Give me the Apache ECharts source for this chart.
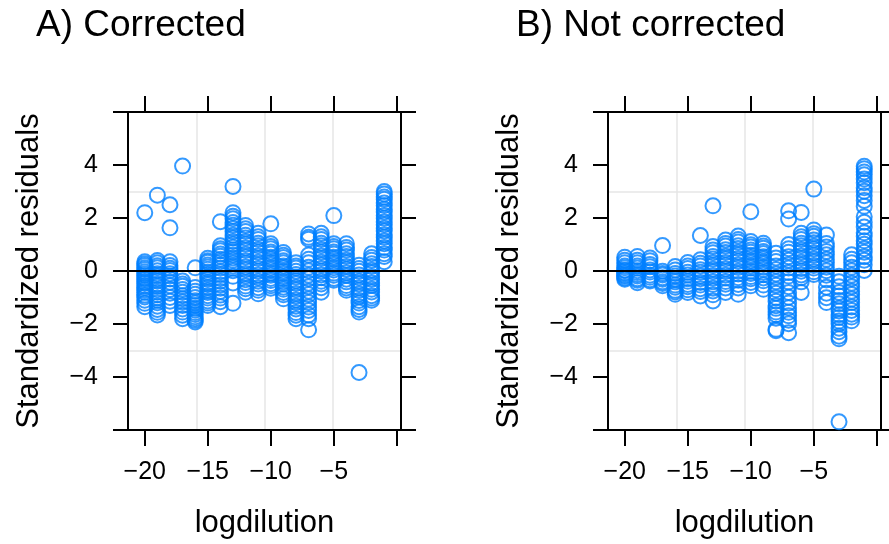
<!DOCTYPE html>
<html>
<head>
<meta charset="utf-8">
<script src="https://cdn.jsdelivr.net/npm/echarts@6/dist/echarts.min.js"></script>
<style>
html, body { margin: 0; padding: 0; background: #fff; }
#chart { width: 889px; height: 544px; }
</style>
</head>
<body>
<div id="chart"></div>
<script>
// dilution levels (x) and the residuals read per column, left to right
var logdilution = [-20, -19, -18, -17, -16, -15, -14, -13, -12, -11, -10, -9, -8, -7, -6, -5, -4, -3, -2, -1];

var correctedResid = [
  [2.2, 0.35, 0.27, 0.21, 0.12, 0.06, -0.03, -0.1, -0.17, -0.26, -0.32, -0.41, -0.47, -0.56, -0.63, -0.72, -0.8, -0.91, -0.98, -1.1, -1.22, -1.35],
  [2.86, 0.4, 0.31, 0.2, 0.12, 0.01, -0.1, -0.18, -0.3, -0.38, -0.5, -0.58, -0.71, -0.8, -0.9, -1.02, -1.1, -1.2, -1.33, -1.45, -1.56, -1.66],
  [2.5, 1.63, 0.35, 0.21, 0.1, 0.02, -0.1, -0.19, -0.3, -0.42, -0.56, -0.7, -0.84, -1.0, -1.14, -1.3],
  [3.96, -0.38, -0.49, -0.58, -0.7, -0.8, -0.93, -1.05, -1.17, -1.3, -1.43, -1.55, -1.67, -1.8],
  [0.12, -0.62, -0.76, -0.88, -1.0, -1.12, -1.21, -1.3, -1.41, -1.48, -1.57, -1.64, -1.73, -1.8, -1.86, -1.92],
  [0.48, 0.39, 0.33, 0.23, 0.15, 0.07, -0.04, -0.12, -0.23, -0.31, -0.43, -0.51, -0.62, -0.73, -0.81, -0.93, -1.02, -1.13, -1.21, -1.3],
  [1.86, 0.95, 0.84, 0.76, 0.64, 0.56, 0.44, 0.35, 0.22, 0.11, -0.03, -0.14, -0.28, -0.39, -0.53, -0.65, -0.77, -0.91, -1.02, -1.16, -1.35],
  [3.19, 2.2, 2.07, 1.97, 1.83, 1.73, 1.6, 1.49, 1.35, 1.25, 1.11, 1.01, 0.9, 0.79, 0.71, 0.6, 0.49, 0.41, 0.3, 0.19, 0.11, 0.01, -0.2, -0.45, -1.22],
  [1.72, 1.59, 1.49, 1.35, 1.25, 1.11, 1.01, 0.87, 0.77, 0.63, 0.53, 0.39, 0.29, 0.15, 0.05, -0.09, -0.19, -0.33, -0.43, -0.57, -0.67, -0.8],
  [1.42, 1.29, 1.19, 1.05, 0.95, 0.81, 0.71, 0.57, 0.47, 0.33, 0.23, 0.09, -0.01, -0.15, -0.25, -0.39, -0.49, -0.63, -0.73, -0.86],
  [1.78, 1.03, 0.92, 0.84, 0.72, 0.64, 0.52, 0.44, 0.32, 0.24, 0.12, 0.04, -0.08, -0.16, -0.28, -0.36, -0.48, -0.56, -0.65],
  [0.7, 0.59, 0.51, 0.39, 0.31, 0.19, 0.11, -0.01, -0.09, -0.21, -0.29, -0.41, -0.49, -0.61, -0.69, -0.81, -0.9, -1.05],
  [0.31, 0.19, 0.11, -0.01, -0.13, -0.23, -0.37, -0.47, -0.61, -0.71, -0.85, -0.95, -1.09, -1.19, -1.33, -1.43, -1.57, -1.67, -1.8],
  [1.4, 1.27, 1.2, 0.6, 0.44, 0.31, 0.14, 0.01, -0.16, -0.29, -0.46, -0.59, -0.76, -0.89, -1.06, -1.19, -1.36, -1.49, -1.66, -1.8, -2.22],
  [1.42, 1.29, 1.19, 1.05, 0.95, 0.81, 0.71, 0.57, 0.47, 0.33, 0.23, 0.09, -0.01, -0.15, -0.25, -0.39, -0.49, -0.63, -0.8],
  [2.09, 1.03, 0.92, 0.84, 0.72, 0.64, 0.52, 0.44, 0.32, 0.24, 0.12, 0.04, -0.08, -0.16, -0.28, -0.35],
  [1.03, 0.89, 0.79, 0.65, 0.55, 0.41, 0.31, 0.17, 0.07, -0.07, -0.17, -0.31, -0.41, -0.55, -0.64, -0.73],
  [0.22, 0.09, -0.01, -0.15, -0.25, -0.39, -0.49, -0.63, -0.73, -0.87, -0.97, -1.11, -1.21, -1.35, -1.45, -1.55, -3.83],
  [0.65, 0.51, 0.41, 0.27, 0.17, 0.03, -0.07, -0.21, -0.31, -0.45, -0.55, -0.69, -0.79, -0.93, -1.02, -1.1],
  [3.0, 2.91, 2.79, 2.71, 2.57, 2.47, 2.33, 2.23, 2.09, 1.99, 1.85, 1.75, 1.61, 1.51, 1.37, 1.27, 1.13, 1.03, 0.89, 0.79, 0.65, 0.55, 0.35]
];

var uncorrectedResid = [
  [0.52, 0.41, 0.31, 0.19, 0.12, 0.04, 0.01, -0.06, -0.1, -0.16, -0.2, -0.26, -0.31],
  [0.55, 0.41, 0.31, 0.19, 0.11, 0.01, -0.06, -0.13, -0.19, -0.29, -0.35, -0.44],
  [0.49, 0.39, 0.25, 0.16, 0.04, -0.04, -0.16, -0.24, -0.33, -0.38],
  [0.96, -0.01, -0.09, -0.15, -0.25, -0.31, -0.41, -0.47, -0.56],
  [0.17, 0.04, -0.09, -0.19, -0.33, -0.41, -0.53, -0.61, -0.73, -0.79, -0.88],
  [0.32, 0.19, 0.09, -0.05, -0.15, -0.29, -0.39, -0.51, -0.59, -0.71, -0.81],
  [1.34, 0.42, 0.29, 0.19, 0.05, -0.05, -0.19, -0.29, -0.43, -0.53, -0.67, -0.77, -0.94],
  [2.46, 0.92, 0.79, 0.69, 0.55, 0.45, 0.31, 0.21, 0.07, -0.03, -0.17, -0.27, -0.41, -0.51, -0.65, -0.75, -0.9, -1.13],
  [1.17, 1.04, 0.94, 0.8, 0.7, 0.56, 0.46, 0.32, 0.22, 0.08, -0.02, -0.16, -0.26, -0.4, -0.5, -0.64, -0.81],
  [1.32, 1.19, 1.09, 0.95, 0.85, 0.71, 0.61, 0.47, 0.37, 0.23, 0.13, -0.01, -0.11, -0.25, -0.35, -0.51, -0.64, -0.88],
  [2.24, 1.11, 0.99, 0.91, 0.79, 0.71, 0.59, 0.51, 0.39, 0.31, 0.19, 0.11, -0.01, -0.09, -0.21, -0.29, -0.43, -0.56],
  [1.05, 0.94, 0.86, 0.74, 0.66, 0.54, 0.46, 0.34, 0.26, 0.14, 0.06, -0.06, -0.14, -0.26, -0.37, -0.53, -0.69],
  [0.67, 0.49, 0.36, 0.19, 0.06, -0.11, -0.24, -0.41, -0.54, -0.71, -0.84, -1.01, -1.14, -1.31, -1.41, -1.55, -1.65, -1.78, -2.2, -2.25],
  [2.27, 1.96, 1.0, 0.84, 0.71, 0.54, 0.41, 0.24, 0.11, -0.06, -0.19, -0.41, -0.59, -0.81, -0.99, -1.21, -1.39, -1.56, -1.69, -1.86, -1.99, -2.33],
  [2.21, 1.42, 1.29, 1.19, 1.05, 0.95, 0.81, 0.71, 0.57, 0.47, 0.33, 0.23, 0.09, -0.01, -0.15, -0.25, -0.41, -0.81],
  [3.09, 1.55, 1.41, 1.31, 1.17, 1.07, 0.93, 0.83, 0.69, 0.59, 0.45, 0.35, 0.21, 0.11, -0.03, -0.13],
  [1.36, 1.04, 0.91, 0.74, 0.61, 0.44, 0.31, 0.14, 0.01, -0.16, -0.34, -0.61, -0.84, -1.01, -1.19],
  [-0.2, -0.41, -0.59, -0.81, -0.94, -1.11, -1.24, -1.41, -1.51, -1.65, -1.75, -1.89, -1.99, -2.16, -2.29, -2.46, -2.56, -5.69],
  [0.61, 0.44, 0.31, 0.14, 0.01, -0.16, -0.29, -0.46, -0.59, -0.76, -0.89, -1.06, -1.19, -1.36, -1.49, -1.63, -1.74, -1.88],
  [3.95, 3.86, 3.74, 3.63, 3.47, 3.33, 3.14, 3.01, 2.84, 2.66, 2.44, 2.05, 1.84, 1.66, 1.44, 1.31, 1.14, 1.01, 0.84, 0.71, 0.54, 0.41, 0.24, 0.02]
];

var panelTitles = ['A) Corrected', 'B) Not corrected'];
var xTicks = [-20, -15, -10, -5, 0];
var xTickLabels = [-20, -15, -10, -5];
var yTicks = [-6, -4, -2, 0, 2, 4, 6];
var yTickLabels = [-4, -2, 0, 2, 4];

var font = '"Liberation Sans", Arial, sans-serif';
var blue = '#0080ff';
var lineW = 2;

function toPoints(resid) {
  var pts = [];
  resid.forEach(function (col, i) {
    col.forEach(function (v) { pts.push([logdilution[i], v]); });
  });
  return pts;
}

function minus(v) {
  return String(v).replace('-', '\u2212');
}

var chart = echarts.init(document.getElementById('chart'));

var grids = [], xAxes = [], yAxes = [], series = [], titles = [];
var panelData = [correctedResid, uncorrectedResid];

panelData.forEach(function (resid, g) {
  var off = g * 480;
  grids.push({ left: 128 + off, top: 112, width: 273, height: 320 });
  titles.push({
    text: panelTitles[g], left: 31 + off, top: 2,
    textStyle: { fontSize: 37, fontWeight: 'normal', color: '#000', fontFamily: font }
  });

  var frameLine = { show: true, onZero: false, lineStyle: { color: '#000', width: lineW } };
  var tickStyle = { color: '#000', width: lineW };

  // bottom axis with labels
  xAxes.push({
    type: 'value', gridIndex: g, position: 'bottom', min: -21.33, max: 0.33,
    name: 'logdilution', nameLocation: 'middle', nameGap: 78,
    nameTextStyle: { fontSize: 31, color: '#000', fontFamily: font },
    axisLine: frameLine,
    axisTick: { show: true, length: 16, customValues: xTicks, lineStyle: tickStyle },
    axisLabel: { customValues: xTickLabels, fontSize: 25, margin: 30, color: '#000', fontFamily: font, formatter: minus },
    splitLine: { show: false }
  });
  // top axis, ticks only
  xAxes.push({
    type: 'value', gridIndex: g, position: 'top', min: -21.33, max: 0.33,
    axisLine: frameLine,
    axisTick: { show: true, length: 16, customValues: xTicks, lineStyle: tickStyle },
    axisLabel: { show: false },
    splitLine: { show: false }
  });
  // hidden axis for the background grid (quarters of the panel)
  xAxes.push({
    type: 'value', gridIndex: g, position: 'bottom', min: 0, max: 4, interval: 1,
    axisLine: { show: false }, axisTick: { show: false }, axisLabel: { show: false },
    splitLine: { show: true, lineStyle: { color: '#e6e6e6', width: 1.5 } }
  });

  yAxes.push({
    type: 'value', gridIndex: g, position: 'left', min: -6, max: 6,
    name: 'Standardized residuals', nameLocation: 'middle', nameGap: 83,
    nameTextStyle: { fontSize: 31, color: '#000', fontFamily: font },
    axisLine: frameLine,
    axisTick: { show: true, length: 15, customValues: yTicks, lineStyle: tickStyle },
    axisLabel: { customValues: yTickLabels, fontSize: 25, margin: 30, color: '#000', fontFamily: font, formatter: minus },
    splitLine: { show: false }
  });
  yAxes.push({
    type: 'value', gridIndex: g, position: 'right', min: -6, max: 6,
    axisLine: frameLine,
    axisTick: { show: true, length: 15, customValues: yTicks, lineStyle: tickStyle },
    axisLabel: { show: false },
    splitLine: { show: false }
  });
  yAxes.push({
    type: 'value', gridIndex: g, position: 'left', min: 0, max: 4, interval: 1,
    axisLine: { show: false }, axisTick: { show: false }, axisLabel: { show: false },
    splitLine: { show: true, lineStyle: { color: '#e6e6e6', width: 1.5 } }
  });

  series.push({
    type: 'scatter',
    xAxisIndex: g * 3, yAxisIndex: g * 3,
    data: toPoints(resid),
    symbol: 'circle', symbolSize: 15,
    itemStyle: { color: 'rgba(0,0,0,0)', borderColor: blue, borderWidth: 2 },
    silent: true,
    markLine: {
      silent: true, symbol: ['none', 'none'], label: { show: false },
      lineStyle: { color: '#000', width: lineW, type: 'solid' },
      data: [{ yAxis: 0 }]
    }
  });
});

chart.setOption({
  animation: false,
  backgroundColor: '#fff',
  title: titles,
  grid: grids,
  xAxis: xAxes,
  yAxis: yAxes,
  series: series
});
</script>
</body>
</html>
